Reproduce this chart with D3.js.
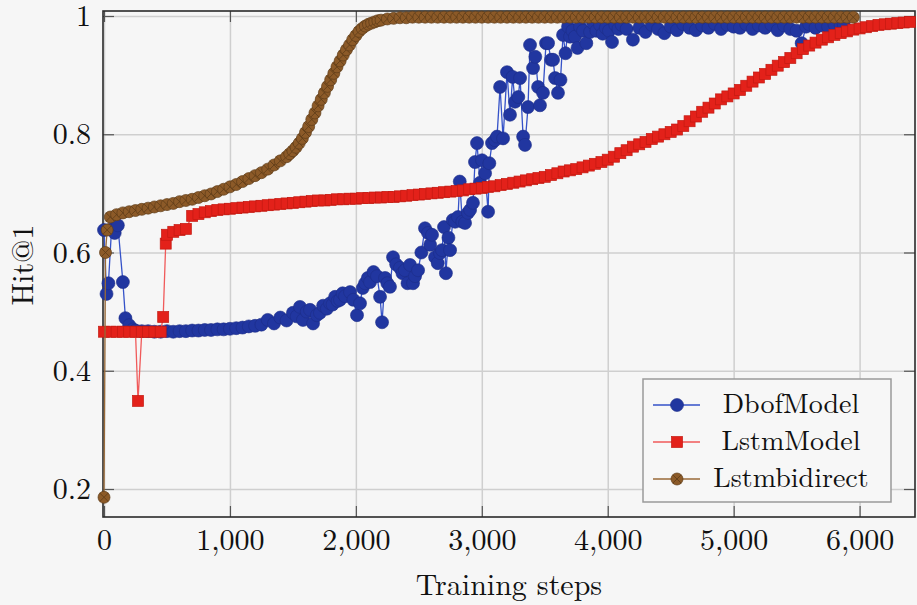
<!DOCTYPE html>
<html>
<head>
<meta charset="utf-8">
<script src="https://cdn.jsdelivr.net/npm/d3@7"></script>
<style>
  html, body { margin: 0; padding: 0; background: #f6f6f6; }
  svg { display: block; }
</style>
</head>
<body>
<svg id="chart" width="917" height="605"></svg>
<script>
// Hit@1 vs training steps, three models
const seriesNames = ["DbofModel", "LstmModel", "Lstmbidirect"];
const xTicks = [0, 1000, 2000, 3000, 4000, 5000, 6000];
const yTicks = [0.2, 0.4, 0.6, 0.8, 1];
const yTickLabels = ["0.2", "0.4", "0.6", "0.8", "1"];

// [step, hit@1]
const dbofModel = [
  [0,.638],[20,.53],[35,.548],[60,.64],[85,.633],[110,.646],[150,.55],[170,.489],[200,.477],[230,.47],
  [250,.468],[300,.467],[350,.467],[400,.466],[450,.466],[500,.467],[550,.466],[600,.467],[650,.467],[700,.468],
  [750,.468],[800,.469],[850,.469],[900,.47],[950,.47],[1000,.471],[1050,.472],[1100,.473],[1150,.475],[1200,.476],
  [1250,.478],[1300,.486],[1350,.48],[1400,.49],[1450,.485],[1500,.498],[1530,.492],[1556,.508],[1580,.486],[1610,.5],
  [1636,.503],[1660,.48],[1690,.494],[1715,.498],[1740,.51],[1770,.505],[1795,.514],[1815,.512],[1835,.525],[1855,.518],
  [1874,.52],[1895,.531],[1914,.526],[1954,.533],[1980,.52],[2009,.494],[2033,.514],[2055,.54],[2073,.548],[2095,.557],
  [2113,.55],[2140,.567],[2168,.56],[2192,.525],[2208,.482],[2232,.557],[2250,.548],[2271,.542],[2295,.592],[2320,.58],
  [2350,.574],[2370,.565],[2390,.57],[2410,.548],[2430,.579],[2454,.548],[2470,.56],[2494,.57],[2520,.6],[2549,.641],
  [2573,.633],[2590,.613],[2605,.63],[2629,.592],[2650,.582],[2668,.599],[2684,.604],[2700,.643],[2715,.565],[2735,.625],
  [2748,.604],[2770,.655],[2788,.652],[2811,.66],[2825,.72],[2845,.652],[2867,.65],[2890,.667],[2907,.672],[2930,.684],
  [2946,.753],[2962,.785],[2986,.718],[3002,.756],[3026,.734],[3050,.669],[3060,.751],[3081,.785],[3105,.79],[3121,.796],
  [3145,.88],[3169,.793],[3200,.905],[3224,.833],[3245,.897],[3264,.855],[3290,.863],[3304,.895],[3328,.796],[3343,.782],
  [3367,.846],[3383,.951],[3407,.912],[3425,.931],[3447,.88],[3462,.849],[3486,.87],[3510,.954],[3526,.954],[3550,.926],
  [3566,.926],[3582,.895],[3605,.87],[3625,.892],[3645,.968],[3665,.937],[3685,.982],[3701,.965],[3720,.975],[3740,.965],
  [3760,.946],[3780,.982],[3804,.975],[3830,.954],[3860,.973],[3883,.988],[3910,.975],[3939,.985],[3960,.97],[3985,.98],
  [4010,.975],[4034,.956],[4060,.985],[4085,.978],[4110,.985],[4150,.978],[4200,.96],[4250,.98],[4300,.973],[4350,.985],
  [4400,.978],[4450,.971],[4500,.982],[4550,.976],[4600,.986],[4650,.98],[4700,.976],[4750,.984],[4800,.98],[4850,.987],
  [4900,.978],[4950,.985],[5000,.982],[5050,.98],[5100,.986],[5150,.978],[5200,.984],[5250,.98],[5300,.985],[5350,.976],
  [5400,.984],[5450,.978],[5500,.975],[5540,.954],[5575,.982],[5600,.986],[5650,.98],[5700,.984],[5750,.982],[5800,.986],
  [5850,.984],[5875,.985]
];

const lstmModel = [
  [0,.466],[50,.466],[100,.466],[150,.466],[200,.466],[250,.466],[270,.349],[300,.466],[350,.466],[400,.466],
  [450,.466],[470,.491],[490,.615],[500,.63],[550,.635],[600,.638],[650,.64],[700,.662],[750,.665],[800,.668],
  [850,.67],[900,.672],[950,.673],[1000,.674],[1050,.675],[1100,.676],[1150,.677],[1200,.678],[1250,.679],[1300,.68],
  [1350,.681],[1400,.682],[1450,.683],[1500,.684],[1550,.685],[1600,.686],[1650,.687],[1700,.688],[1750,.688],[1800,.689],
  [1850,.69],[1900,.69],[1950,.691],[2000,.691],[2050,.692],[2100,.692],[2150,.693],[2200,.693],[2250,.694],[2300,.694],
  [2350,.695],[2400,.696],[2450,.697],[2500,.698],[2550,.699],[2600,.7],[2650,.701],[2700,.702],[2750,.703],[2800,.704],
  [2850,.705],[2900,.707],[2950,.708],[3000,.709],[3050,.711],[3100,.712],[3150,.714],[3200,.716],[3250,.718],[3300,.72],
  [3350,.722],[3400,.724],[3450,.726],[3500,.728],[3550,.731],[3600,.734],[3650,.737],[3700,.739],[3750,.741],[3800,.744],
  [3850,.747],[3900,.75],[3950,.753],[4000,.757],[4050,.762],[4100,.768],[4150,.773],[4200,.779],[4250,.783],[4300,.787],
  [4350,.792],[4400,.796],[4450,.8],[4500,.804],[4550,.808],[4600,.814],[4650,.822],[4700,.83],[4750,.838],[4800,.845],
  [4850,.852],[4900,.859],[4950,.864],[5000,.869],[5050,.875],[5100,.882],[5150,.889],[5200,.896],[5250,.902],[5300,.909],
  [5350,.916],[5400,.922],[5450,.929],[5500,.937],[5550,.944],[5600,.95],[5650,.955],[5700,.96],[5750,.964],[5800,.968],
  [5850,.971],[5900,.974],[5950,.977],[6000,.979],[6050,.981],[6100,.983],[6150,.985],[6200,.986],[6250,.987],[6300,.988],
  [6350,.989],[6400,.99]
];

const lstmBidirect = [
  [0,.186],[12,.6],[25,.638],[50,.66],[100,.664],[150,.667],[200,.669],[250,.671],[300,.673],[350,.675],
  [400,.677],[450,.679],[500,.681],[550,.683],[600,.686],[650,.688],[700,.69],[750,.693],[800,.696],[850,.699],
  [900,.703],[950,.707],[1000,.711],[1050,.715],[1100,.72],[1150,.725],[1200,.73],[1250,.735],[1300,.741],[1350,.748],
  [1400,.755],[1450,.762],[1475,.767],[1500,.772],[1525,.778],[1550,.785],[1575,.793],[1600,.803],[1625,.813],[1650,.825],
  [1675,.836],[1700,.848],[1725,.859],[1750,.87],[1775,.881],[1800,.892],[1825,.903],[1850,.914],[1875,.924],[1900,.934],
  [1925,.943],[1950,.951],[1975,.96],[2000,.967],[2025,.974],[2050,.979],[2075,.983],[2100,.986],[2125,.988],[2150,.99],
  [2175,.992],[2200,.993],[2250,.995],[2300,.996],[2350,.997],
  [2400,.997],[2450,.998],[2500,.998],[2550,.998],[2600,.998],[2650,.998],[2700,.998],[2750,.998],[2800,.998],[2850,.998],
  [2900,.998],[2950,.998],[3000,.998],[3050,.998],[3100,.998],[3150,.998],[3200,.998],[3250,.998],[3300,.998],[3350,.998],
  [3400,.998],[3450,.998],[3500,.998],[3550,.998],[3600,.998],[3650,.998],[3700,.998],[3750,.998],[3800,.998],[3850,.998],
  [3900,.998],[3950,.998],[4000,.998],[4050,.998],[4100,.998],[4150,.998],[4200,.998],[4250,.998],[4300,.998],[4350,.998],
  [4400,.998],[4450,.998],[4500,.998],[4550,.998],[4600,.998],[4650,.998],[4700,.998],[4750,.998],[4800,.998],[4850,.998],
  [4900,.998],[4950,.998],[5000,.998],[5050,.998],[5100,.998],[5150,.998],[5200,.998],[5250,.998],[5300,.998],[5350,.998],
  [5400,.998],[5450,.998],[5500,.998],[5550,.998],[5600,.998],[5650,.998],[5700,.998],[5750,.998],[5800,.998],[5850,.998],
  [5900,.998],[5950,.998]
];

const FONT = "Latin Modern Roman, CMU Serif, serif";
const svg = d3.select("#chart");
const plotL = 103, plotR = 915, plotT = 11, plotB = 517;

svg.append("rect").attr("width", 917).attr("height", 605).attr("fill", "#f6f6f6");

const x = d3.scaleLinear().domain([-8, 6440]).range([plotL, plotR]);
const y = d3.scaleLinear().domain([0.15264, 1.00846]).range([plotB, plotT]);

// grid
svg.append("g")
  .attr("transform", `translate(0,${plotB})`)
  .call(d3.axisBottom(x).tickValues(xTicks).tickSize(-(plotB - plotT)).tickFormat(""))
  .call(g => g.select(".domain").remove())
  .call(g => g.selectAll("line").attr("stroke", "#cfcfcf").attr("stroke-width", 1.5));
svg.append("g")
  .attr("transform", `translate(${plotL},0)`)
  .call(d3.axisLeft(y).tickValues(yTicks).tickSize(-(plotR - plotL)).tickFormat(""))
  .call(g => g.select(".domain").remove())
  .call(g => g.selectAll("line").attr("stroke", "#cfcfcf").attr("stroke-width", 1.5));

// inward ticks on all four sides
const tickLen = 11;
const tickStyle = g => {
  g.select(".domain").remove();
  g.selectAll("line").attr("stroke", "#555").attr("stroke-width", 1.2);
};
svg.append("g").attr("transform", `translate(0,${plotB})`)
  .call(d3.axisBottom(x).tickValues(xTicks).tickSize(-tickLen).tickFormat("")).call(tickStyle);
svg.append("g").attr("transform", `translate(0,${plotT})`)
  .call(d3.axisTop(x).tickValues(xTicks).tickSize(-tickLen).tickFormat("")).call(tickStyle);
svg.append("g").attr("transform", `translate(${plotL},0)`)
  .call(d3.axisLeft(y).tickValues(yTicks).tickSize(-tickLen).tickFormat("")).call(tickStyle);
svg.append("g").attr("transform", `translate(${plotR},0)`)
  .call(d3.axisRight(y).tickValues(yTicks).tickSize(-tickLen).tickFormat("")).call(tickStyle);

// tick labels
svg.append("g")
  .attr("transform", `translate(0,${plotB})`)
  .call(d3.axisBottom(x).tickValues(xTicks).tickSize(0).tickPadding(12).tickFormat(d3.format(",")))
  .attr("font-family", FONT).attr("font-size", 30)
  .call(g => g.select(".domain").remove())
  .call(g => g.selectAll("text").attr("fill", "#111"));
svg.append("g")
  .attr("transform", `translate(${plotL},0)`)
  .call(d3.axisLeft(y).tickValues(yTicks).tickSize(0).tickPadding(12).tickFormat((d, i) => yTickLabels[i]))
  .attr("font-family", FONT).attr("font-size", 30)
  .call(g => g.select(".domain").remove())
  .call(g => g.selectAll("text").attr("fill", "#111"));

// frame
svg.append("rect")
  .attr("x", plotL).attr("y", plotT)
  .attr("width", plotR - plotL).attr("height", plotB - plotT)
  .attr("fill", "none").attr("stroke", "#2a2a2a").attr("stroke-width", 1.6);

// axis titles
svg.append("text")
  .attr("x", 509).attr("y", 595)
  .attr("text-anchor", "middle").attr("font-size", 30).attr("font-family", FONT).attr("fill", "#111")
  .text("Training steps");
svg.append("text")
  .attr("transform", "translate(33,265) rotate(-90)")
  .attr("text-anchor", "middle").attr("font-size", 30).attr("font-family", FONT).attr("fill", "#111")
  .text("Hit@1");

const styles = [
  { data: dbofModel, line: "#3552c8", fill: "#2136a0", stroke: "#1c2d88", mark: "circle" },
  { data: lstmModel, line: "#f05a5a", fill: "#e3211a", stroke: "#c41a12", mark: "square" },
  { data: lstmBidirect, line: "#9a6a38", fill: "#8c5a28", stroke: "#5e3c18", mark: "otimes" }
];

const line = d3.line().x(d => x(d[0])).y(d => y(d[1]));

function drawMark(g, s) {
  if (s.mark === "circle") {
    g.append("circle").attr("r", 6.5).attr("fill", s.fill).attr("stroke", s.stroke).attr("stroke-width", 0.6);
  } else if (s.mark === "square") {
    g.append("rect").attr("x", -5.5).attr("y", -5.5).attr("width", 11).attr("height", 11)
      .attr("fill", s.fill).attr("stroke", s.stroke).attr("stroke-width", 0.7);
  } else {
    g.append("circle").attr("r", 6).attr("fill", s.fill).attr("stroke", s.stroke).attr("stroke-width", 0.7);
    const k = 6 * Math.SQRT1_2;
    g.append("path").attr("d", `M${-k},${-k}L${k},${k}M${-k},${k}L${k},${-k}`)
      .attr("stroke", s.stroke).attr("stroke-width", 0.8);
  }
}

styles.forEach(s => {
  const grp = svg.append("g");
  grp.append("path").datum(s.data)
    .attr("d", line).attr("fill", "none")
    .attr("stroke", s.line).attr("stroke-width", 1.3);
  grp.selectAll("g.mark")
    .data(s.data)
    .enter()
    .append("g")
    .attr("class", "mark")
    .attr("transform", d => `translate(${x(d[0])},${y(d[1])})`)
    .each(function () { drawMark(d3.select(this), s); });
});

// legend
const legend = svg.append("g");
legend.append("rect")
  .attr("x", 643).attr("y", 379).attr("width", 248).attr("height", 123)
  .attr("fill", "#f7f7f7").attr("stroke", "#9a9a9a").attr("stroke-width", 1.5);
const rowY = [405, 442, 479];
styles.forEach((s, i) => {
  const row = legend.append("g").attr("transform", `translate(0,${rowY[i]})`);
  row.append("line").attr("x1", 653).attr("x2", 700)
    .attr("stroke", s.line).attr("stroke-width", 1.3);
  drawMark(row.append("g").attr("transform", "translate(677,0)"), s);
  row.append("text")
    .attr("x", 791).attr("y", 8)
    .attr("text-anchor", "middle").attr("font-size", 28).attr("font-family", FONT).attr("fill", "#111")
    .text(seriesNames[i]);
});
</script>
</body>
</html>
